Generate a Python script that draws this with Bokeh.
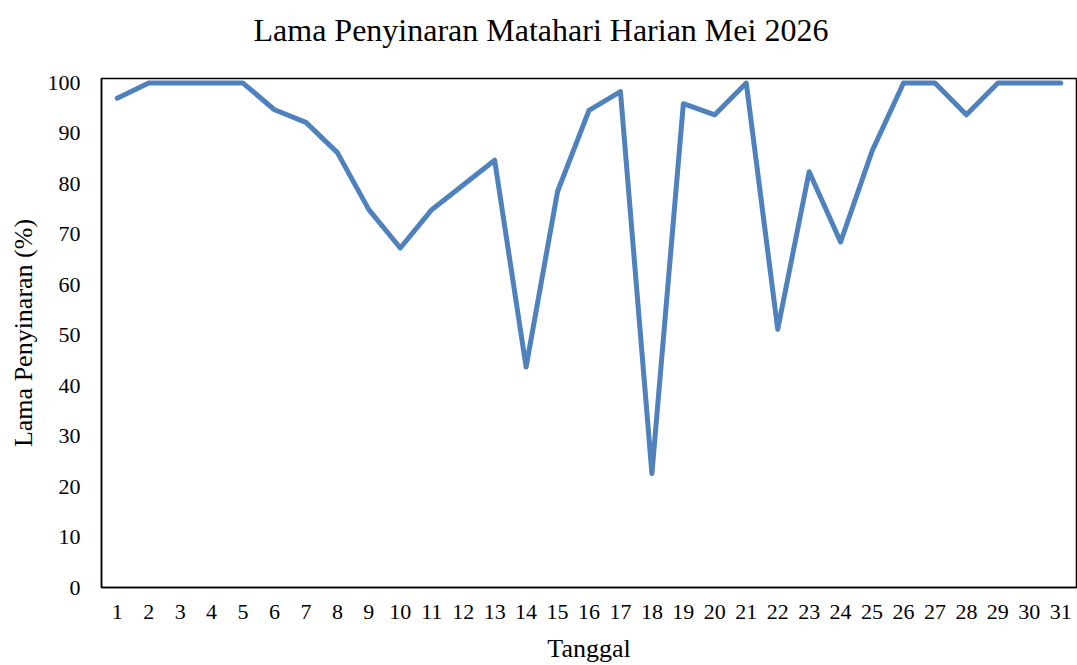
from bokeh.plotting import figure
from bokeh.embed import file_html
from bokeh.resources import INLINE
from bokeh.models import FixedTicker, Range1d, Title

days = list(range(1, 32))
sunshine = [97.0, 100, 100, 100, 100, 94.7, 92.2, 86.2, 74.9, 67.3,
            74.9, 79.8, 84.7, 43.7, 78.5, 94.6, 98.3, 22.6, 95.9, 93.7,
            100, 51.2, 82.4, 68.5, 86.5, 100, 100, 93.7, 100, 100, 100]
y_ticks = [0, 10, 20, 30, 40, 50, 60, 70, 80, 90, 100]
title_text = "Lama Penyinaran Matahari Harian Mei 2026"

FONT = "Liberation Serif"

p = figure(width=1077, height=665, output_backend="svg", toolbar_location=None,
           x_range=Range1d(0.5, 31.5), y_range=Range1d(0, 100.9),
           title=title_text,
           min_border_left=101, min_border_right=1, min_border_bottom=78, min_border_top=78)

p.line(days, sunshine, line_color="#4F81BD", line_width=5,
       line_join="round", line_cap="round")

# blank spacer panel between the frame and the title
p.add_layout(Title(text=" ", text_font_size="1px", standoff=19), "above")

p.title.text_font = FONT
p.title.text_font_size = "32px"
p.title.text_font_style = "normal"
p.title.align = "left"
p.title.offset = 152
p.title.text_color = "black"
p.title.standoff = 18

p.xgrid.visible = False
p.ygrid.visible = False
p.outline_line_color = "black"
p.outline_line_width = 1.5

p.xaxis.ticker = FixedTicker(ticks=days)
p.yaxis.ticker = FixedTicker(ticks=y_ticks)
for ax in (p.xaxis, p.yaxis):
    ax.axis_line_color = "black"
    ax.axis_line_width = 1.5
    ax.major_tick_line_color = None
    ax.minor_tick_line_color = None
    ax.major_tick_out = 0
    ax.major_tick_in = 0
    ax.major_label_text_font = FONT
    ax.major_label_text_font_size = "22px"
    ax.major_label_text_color = "black"
    ax.axis_label_text_font = FONT
    ax.axis_label_text_font_size = "26px"
    ax.axis_label_text_font_style = "normal"
    ax.axis_label_text_color = "black"

p.xaxis.axis_label = "Tanggal"
p.yaxis.axis_label = "Lama Penyinaran (%)"
p.xaxis.major_label_standoff = 17
p.yaxis.major_label_standoff = 21
p.xaxis.axis_label_standoff = 12
p.yaxis.axis_label_standoff = 7

open("out.html", "w").write(file_html(p, INLINE))
